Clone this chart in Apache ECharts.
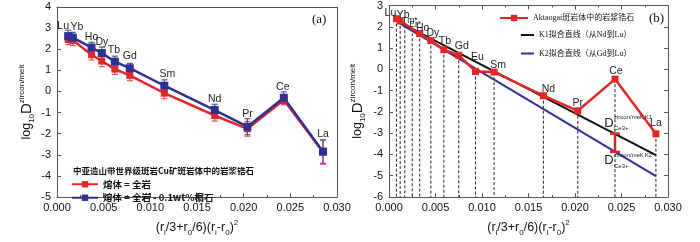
<!DOCTYPE html>
<html lang="zh">
<head>
<meta charset="UTF-8" />
<title>锆石/熔体分配系数</title>
<script src="https://cdn.jsdelivr.net/npm/echarts@6/dist/echarts.min.js"></script>
</head>
<body style="margin:0">
<div id="main" style="width:700px;height:242px;"></div>
<script type="text/javascript">
// (a) 两种熔体假设下的分配系数
var elemA = ['Lu', 'Yb', 'Ho', 'Dy', 'Tb', 'Gd', 'Sm', 'Nd', 'Pr', 'Ce', 'La'];
var xA = [0.0012, 0.0017, 0.0037, 0.0048, 0.0062, 0.0078, 0.0115, 0.0169, 0.0204, 0.0243, 0.0285];
var redA = [2.47, 2.42, 1.74, 1.44, 1.06, 0.76, -0.08, -1.14, -1.77, -0.41, -2.87];
var blueA = [2.62, 2.55, 2.08, 1.82, 1.41, 1.10, 0.27, -0.88, -1.67, -0.30, -2.85];
var errRedA = [0.25, 0.25, 0.25, 0.27, 0.26, 0.25, 0.27, 0.26, 0.35, 0.22, 0.58];
var errBlueA = [0.28, 0.25, 0.25, 0.28, 0.26, 0.23, 0.28, 0.27, 0.38, 0.28, 0.55];

// (b) Aktaogai 斑岩体
var elemB = ['Lu', 'Yb', 'Tm', 'Er', 'Ho', 'Dy', 'Tb', 'Gd', 'Eu', 'Sm', 'Nd', 'Pr', 'Ce', 'La'];
var xB = [0.0008, 0.0012, 0.0017, 0.0025, 0.0033, 0.0045, 0.0059, 0.0075, 0.0093, 0.0113, 0.0166, 0.0203, 0.0243, 0.0287];
var yB = [2.38, 2.27, null, null, 1.68, 1.35, 0.92, 0.66, -0.10, -0.13, -1.24, -1.95, -0.46, -3.03];
var dashTopB = [2.38, 2.27, 2.07, 1.93, 1.68, 1.35, 0.92, 0.66, -0.10, -0.13, -1.24, -1.95, -0.46, -3.03];
var k1Line = [[0.0012, 2.20], [0.0287, -4.03]]; // 从Nd到Lu
var k2Line = [[0.0012, 2.15], [0.0287, -5.02]]; // 从Gd到Lu
var ceK = [0.0243, -3.02, -3.88]; // Ce 的 K1 / K2 值

var xTicks = [0, 0.03, 0.005];
var yTicksA = [-5, 4, 1];
var yTicksB = [-6, 3, 1];

var RED = '#e32626', BLUE = '#2e3192';
var SANS = 'Liberation Sans, Arial, sans-serif';
var SERIF = 'Liberation Serif, Noto Sans CJK SC, serif';
var CJK = 'Noto Sans CJK SC, sans-serif';

// 标签偏移（像素）
var offA = {Lu: [-5, -10], Yb: [4, -11], Ho: [0, -10], Dy: [0, -11], Tb: [-1, -12], Gd: [0, -12],
    Sm: [3, -12], Nd: [0, -11], Pr: [0, -13], Ce: [-1, -11], La: [0, -18]};
var offB = {Lu: [-6, -6], Yb: [3, -6], Tm: [5, -5], Er: [3, -4], Ho: [3, -5], Dy: [2, -7], Tb: [1, -9],
    Gd: [3, -9], Eu: [2, -14], Sm: [4, -7], Nd: [5, -7], Pr: [0, -8], Ce: [1, -8], La: [0, -11]};

var chart = echarts.init(document.getElementById('main'));

function zip(xs, ys) {
    var out = [];
    for (var i = 0; i < xs.length; i++) {
        if (ys[i] !== null) out.push([xs[i], ys[i]]);
    }
    return out;
}

function errRender(color) {
    return function (params, api) {
        var x = api.value(0), y = api.value(1), e = api.value(2);
        var t = api.coord([x, y + e]), b = api.coord([x, y - e]);
        var w = 3, st = {stroke: color, lineWidth: 1.2};
        return {type: 'group', children: [
            {type: 'line', shape: {x1: t[0], y1: t[1], x2: b[0], y2: b[1]}, style: st},
            {type: 'line', shape: {x1: t[0] - w, y1: t[1], x2: t[0] + w, y2: t[1]}, style: st},
            {type: 'line', shape: {x1: b[0] - w, y1: b[1], x2: b[0] + w, y2: b[1]}, style: st}
        ]};
    };
}

var nameRich = {
    m: {fontSize: 12.5, fontFamily: SANS, color: '#111', lineHeight: 18},
    s: {fontSize: 8, fontFamily: SANS, color: '#111', lineHeight: 9, verticalAlign: 'bottom'},
    p: {fontSize: 8, fontFamily: SANS, color: '#111', lineHeight: 9, verticalAlign: 'top'},
    d: {fontSize: 15, fontFamily: SANS, color: '#111', lineHeight: 18}
};
var xName = '{m|(r}{s|i}{m|/3+r}{s|0}{m|/6)(r}{s|i}{m|-r}{s|0}{m|)}{p|2}';
var yName = '{m|log}{s|10}{d|D}{p|zircon/melt}';

function xAxis(gi, pos, ticks, minor) {
    var main = pos === 'bottom';
    return {
        type: 'value', gridIndex: gi, position: pos,
        min: xTicks[0], max: xTicks[1], interval: xTicks[2],
        name: main ? xName : '', nameLocation: 'middle', nameGap: 22,
        nameTextStyle: {rich: nameRich},
        axisLine: {show: true, onZero: false, lineStyle: {color: '#555', width: 1}},
        axisTick: {show: ticks, inside: true, length: 4, lineStyle: {color: '#555'}},
        minorTick: {show: ticks && minor, splitNumber: 2, length: 2, lineStyle: {color: '#555'}},
        axisLabel: {show: main, margin: 5, fontSize: 11, fontFamily: SANS, color: '#111',
            formatter: function (v) { return v.toFixed(3); }},
        splitLine: {show: false}
    };
}

function yAxis(gi, pos, range, ticks) {
    var main = pos === 'left';
    return {
        type: 'value', gridIndex: gi, position: pos,
        min: range[0], max: range[1], interval: range[2],
        name: main ? yName : '', nameLocation: 'middle', nameRotate: 90,
        nameGap: gi === 0 ? 21 : 22,
        nameTextStyle: {rich: nameRich},
        axisLine: {show: true, onZero: false, lineStyle: {color: '#555', width: 1}},
        axisTick: {show: ticks, inside: true, length: 4, lineStyle: {color: '#555'}},
        axisLabel: {show: main, margin: 6, fontSize: 11, fontFamily: SANS, color: '#111'},
        splitLine: {show: false}
    };
}

var option = {
    animation: false,
    grid: [
        {left: 57, right: 363, top: 7, bottom: 36},
        {left: 389, right: 32, top: 4, bottom: 32}
    ],
    xAxis: [
        xAxis(0, 'bottom', true, true), xAxis(0, 'top', false, false),
        xAxis(1, 'bottom', true, true), xAxis(1, 'top', true, true)
    ],
    yAxis: [
        yAxis(0, 'left', yTicksA, true), yAxis(0, 'right', yTicksA, false),
        yAxis(1, 'left', yTicksB, true), yAxis(1, 'right', yTicksB, true)
    ],
    legend: [
        {orient: 'vertical', left: 71, top: 179.5, itemWidth: 26, itemHeight: 8, itemGap: 4, padding: 0,
            data: ['熔体 = 全岩', '熔体 = 全岩 - 0.1wt%榍石'],
            textStyle: {fontSize: 9.5, fontWeight: 'bold', fontFamily: CJK, color: '#111'}},
        {orient: 'vertical', left: 499, top: 14, itemWidth: 28, itemHeight: 8, padding: 0,
            data: ['Aktaogai斑岩体中的岩浆锆石'],
            textStyle: {fontSize: 8, fontFamily: SERIF, color: '#111'}},
        {orient: 'vertical', left: 521, top: 31, itemWidth: 13, itemHeight: 2, itemGap: 10.5, padding: 0,
            icon: 'rect', data: ['K1拟合直线（从Nd到Lu）', 'K2拟合直线（从Gd到Lu）'],
            textStyle: {fontSize: 8, fontFamily: SERIF, color: '#111'}}
    ],
    graphic: [
        {type: 'text', left: 73, top: 167, style: {text: '中亚造山带世界级斑岩Cu矿斑岩体中的岩浆锆石',
            fontSize: 8.5, fontWeight: 'bold', fontFamily: CJK, fill: '#111'}},
        {type: 'text', left: 312, top: 13, style: {text: '(a)', fontSize: 13, fontFamily: SERIF, fill: '#111'}},
        {type: 'text', left: 649, top: 12, style: {text: '(b)', fontSize: 13, fontFamily: SERIF, fill: '#111'}}
    ],
    series: [
        // ---- (a) ----
        {name: '熔体 = 全岩', type: 'line', xAxisIndex: 0, yAxisIndex: 0, data: zip(xA, redA),
            symbol: 'rect', symbolSize: 7, color: RED, lineStyle: {width: 2.5}},
        {type: 'custom', xAxisIndex: 0, yAxisIndex: 0, renderItem: errRender('#e8585a'),
            data: xA.map(function (x, i) { return [x, redA[i], errRedA[i]]; })},
        {name: '熔体 = 全岩 - 0.1wt%榍石', type: 'line', xAxisIndex: 0, yAxisIndex: 0, data: zip(xA, blueA),
            symbol: 'rect', symbolSize: 8, color: BLUE, lineStyle: {width: 2.5}},
        {type: 'custom', xAxisIndex: 0, yAxisIndex: 0, renderItem: errRender('#4f53a6'),
            data: xA.map(function (x, i) { return [x, blueA[i], errBlueA[i]]; })},
        {type: 'custom', xAxisIndex: 0, yAxisIndex: 0, z: 5,
            data: xA.map(function (x, i) { return [x, blueA[i], i]; }),
            renderItem: function (params, api) {
                var p = api.coord([api.value(0), api.value(1)]);
                var el = elemA[api.value(2)], o = offA[el];
                return {type: 'text', x: p[0] + o[0], y: p[1] + o[1],
                    style: {text: el, align: 'center', verticalAlign: 'middle', fontSize: 10.5,
                        fontFamily: SANS, fill: '#222'}};
            }},
        // ---- (b) ----
        {type: 'custom', xAxisIndex: 2, yAxisIndex: 2, silent: true,
            data: xB.map(function (x, i) { return [x, dashTopB[i]]; }),
            renderItem: function (params, api) {
                var t = api.coord([api.value(0), api.value(1)]);
                var b = api.coord([api.value(0), yTicksB[0]]);
                return {type: 'line', shape: {x1: t[0], y1: t[1], x2: b[0], y2: b[1]},
                    style: {stroke: '#222', lineWidth: 1, lineDash: [3, 2]}};
            }},
        {name: 'K1拟合直线（从Nd到Lu）', type: 'line', xAxisIndex: 2, yAxisIndex: 2, data: k1Line,
            symbol: 'none', color: '#111', lineStyle: {width: 2}},
        {name: 'K2拟合直线（从Gd到Lu）', type: 'line', xAxisIndex: 2, yAxisIndex: 2, data: k2Line,
            symbol: 'none', color: BLUE, lineStyle: {width: 2}},
        {name: 'Aktaogai斑岩体中的岩浆锆石', type: 'line', xAxisIndex: 2, yAxisIndex: 2, data: zip(xB, yB),
            symbol: 'rect', symbolSize: 7, color: RED, lineStyle: {width: 2.5}},
        {type: 'custom', xAxisIndex: 2, yAxisIndex: 2, z: 4, data: [ceK],
            renderItem: function (params, api) {
                var t = api.coord([api.value(0), api.value(1)]);
                var b = api.coord([api.value(0), api.value(2)]);
                var st = {stroke: RED, lineWidth: 2.5}, w = 5;
                var small = {fontSize: 6, fontFamily: SANS, fill: '#222'};
                function dLabel(p, dy, sup) {
                    return [
                        {type: 'text', x: p[0] - 6, y: p[1] + dy, style: {text: 'D', align: 'center',
                            verticalAlign: 'middle', fontSize: 13, fontFamily: SANS, fill: '#222'}},
                        {type: 'text', x: p[0] - 1, y: p[1] + dy - 6, style: echarts.util.extend({text: sup,
                            verticalAlign: 'middle'}, small)},
                        {type: 'text', x: p[0] - 1, y: p[1] + dy + 5, style: echarts.util.extend({text: 'Ce3+',
                            verticalAlign: 'middle'}, small)}
                    ];
                }
                return {type: 'group', children: [
                    {type: 'line', shape: {x1: t[0], y1: t[1], x2: b[0], y2: b[1]}, style: st},
                    {type: 'line', shape: {x1: t[0] - w, y1: t[1], x2: t[0] + w, y2: t[1]}, style: st},
                    {type: 'line', shape: {x1: b[0] - w, y1: b[1], x2: b[0] + w, y2: b[1]}, style: st}
                ].concat(dLabel(t, -10, 'zircon/melt,K1'), dLabel(b, 9, 'zircon/melt,K2'))};
            }},
        {type: 'custom', xAxisIndex: 2, yAxisIndex: 2, z: 5,
            data: xB.map(function (x, i) { return [x, dashTopB[i], i]; }),
            renderItem: function (params, api) {
                var p = api.coord([api.value(0), api.value(1)]);
                var el = elemB[api.value(2)], o = offB[el];
                var star = (el === 'Tm' || el === 'Er');
                return {type: 'text', x: p[0] + o[0], y: p[1] + o[1],
                    style: {text: star ? el + '*' : el, align: 'center', verticalAlign: 'middle',
                        fontSize: star ? 8.5 : 10.5, fontFamily: SANS, fill: '#222'}};
            }}
    ]
};

chart.setOption(option);
</script>
</body>
</html>
